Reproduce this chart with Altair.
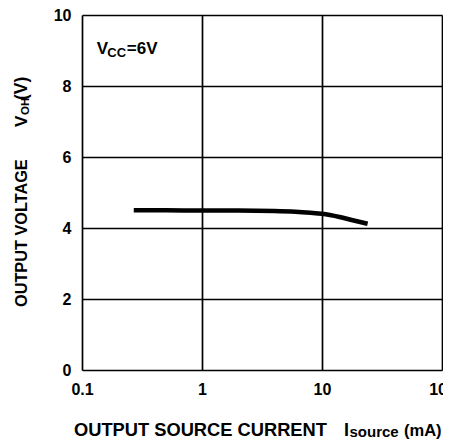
import altair as alt
import pandas as pd

current_ma = [0.27, 0.5, 1, 2, 4, 6, 8, 10, 14, 18, 24]
voltage_v = [4.5, 4.5, 4.49, 4.49, 4.48, 4.46, 4.43, 4.40, 4.31, 4.22, 4.12]
x_ticks = [0.1, 1, 10, 100]
y_ticks = [0, 2, 4, 6, 8, 10]

df = pd.DataFrame({"I": current_ma, "V": voltage_v})
FONT = "Liberation Sans"
NB = "\u00a0"

x_scale = alt.Scale(type="log", domain=[0.1, 100], nice=False)
y_scale = alt.Scale(domain=[0, 10], nice=False)

line = alt.Chart(df).mark_line(color="black", strokeWidth=4.5, interpolate="monotone").encode(
    x=alt.X("I:Q", scale=x_scale,
            axis=alt.Axis(values=x_ticks, labelExpr="datum.value == 0.1 ? '0.1' : datum.value",
                          title=None,
                          grid=True, gridColor="black", gridWidth=1.7, gridOpacity=1,
                          domain=False, ticks=False, labelPadding=11, labelFontSize=16, labelFont=FONT,
                          labelFontWeight="bold", labelColor="black", labelFlush=False)),
    y=alt.Y("V:Q", scale=y_scale,
            axis=alt.Axis(values=y_ticks, title=None,
                          grid=True, gridColor="black", gridWidth=1.7, gridOpacity=1,
                          domain=False, ticks=False, labelPadding=11, labelFontSize=16, labelFont=FONT,
                          labelFontWeight="bold", labelColor="black")),
)

def ptext(txt, size, x, y, angle=0, baseline="middle"):
    return alt.Chart(pd.DataFrame({"t": [txt]})).mark_text(
        font=FONT, fontSize=size, fontWeight="bold", align="left", baseline=baseline,
        angle=angle, color="black").encode(text="t:N", x=alt.value(x), y=alt.value(y))

# y-axis title (rotated)
yt1 = ptext("OUTPUT" + NB + "VOLTAGE", 16.3, -60, 292, 270)
yt2 = ptext("V", 17, -60, 112, 270)
yt3 = ptext("OH", 11.5, -56.5, 100, 270)
yt4 = ptext("(V)", 17.5, -60, 85, 270)

# x-axis title
xt1 = ptext("OUTPUT" + NB + "SOURCE" + NB + "CURRENT", 18.3, -8, 421, baseline="alphabetic")
xt2 = ptext("I", 18, 262, 421, baseline="alphabetic")
xt3 = ptext("source", 15, 267.5, 422, baseline="alphabetic")
xt4 = ptext("(mA)", 16.5, 322, 421, baseline="alphabetic")

ann = pd.DataFrame({"I": [0.133], "V": [9.04]})
def ann_text(txt, size, dx, dy):
    return alt.Chart(ann).mark_text(text=txt, font=FONT, fontSize=size, fontWeight="bold", align="left",
                                    baseline="middle", color="black", dx=dx, dy=dy).encode(
        x=alt.X("I:Q", scale=x_scale), y=alt.Y("V:Q", scale=y_scale))

t1 = ann_text("V", 17, 0, 0)
t2 = ann_text("CC", 13, 10.5, 4)
t3 = ann_text("=6V", 17, 30, 0)

chart = alt.layer(line, yt1, yt2, yt3, yt4, xt1, xt2, xt3, xt4, t1, t2, t3).properties(
    width=360, height=355,
    autosize=alt.AutoSizeParams(type="none"),
    padding={"left": 74, "top": 7, "right": 1, "bottom": 70},
).configure_view(stroke="black", strokeWidth=3.5).configure(background="white")

chart.save("out.html", embed_options={"renderer": "svg", "actions": False})
